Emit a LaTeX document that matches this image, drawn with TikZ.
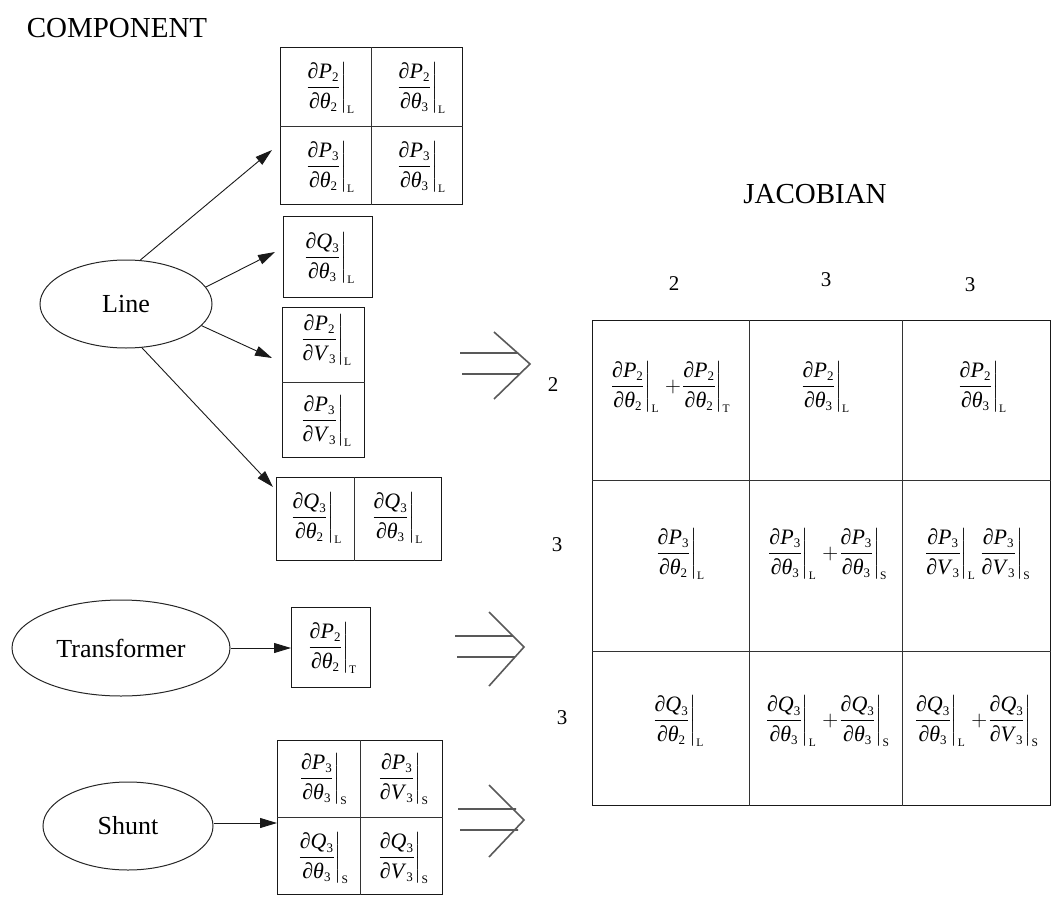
\RequirePackage{fix-cm}
\documentclass[tikz,border=0pt]{standalone}
\usepackage{amsmath}
\usepackage{fontspec}
\setmainfont{Liberation Serif}
\usetikzlibrary{arrows.meta,calc,shapes.geometric}

% partial derivative evaluated for one component: d#1_#2 / d#3_#4 |_#5
\newcommand{\subno}[1]{\text{\fontsize{13}{13}\selectfont #1}}
\newcommand{\jd}[5]{$\left.\dfrac{\text{∂\textit{#1}}_{\subno{#2}}}{\text{∂\textit{#3}}_{\subno{#4}}}\right|_{\text{\fontsize{11.5}{12}\selectfont #5}}$}
\newcommand{\jplus}{\hspace{6pt}$+$\hspace{0pt}}

\tikzset{
  title/.style={font=\fontsize{29}{34}\selectfont, inner sep=0pt},
  comp/.style={draw=black!85, ellipse, line width=1pt, inner sep=0pt,
               font=\fontsize{26}{30}\selectfont},
  cellbox/.style={draw=black!90, line width=1.3pt, inner sep=0pt, anchor=north west},
  divider/.style={line width=1pt, black!80},
  deriv/.style={inner sep=0pt, font=\fontsize{22}{26}\selectfont},
  arr/.style={-{Triangle[length=17pt,width=10pt]}, line width=0.9pt, black!90},
  imply/.style={line width=1.6pt, black!65},
  idx/.style={font=\fontsize{21}{25}\selectfont, inner sep=0pt}
}

\begin{document}
\begin{tikzpicture}[x=1pt, y=-1pt]
\useasboundingbox (0,0) rectangle (1052,897);

% headings
\node[title] (hcomp) at (117,28) {COMPONENT};
\node[title] (hjac) at (815,194) {JACOBIAN};

% components
\node[comp, minimum width=172pt, minimum height=88pt] (line) at (126,304) {Line};
\node[comp, minimum width=218pt, minimum height=96pt] (trans) at (121,648) {Transformer};
\node[comp, minimum width=170pt, minimum height=88pt] (shunt) at (128,826) {Shunt};

% ---------- Line contributions ----------
\node[cellbox, minimum width=182pt, minimum height=157pt] (lb1) at (280,47) {};
\draw[divider] (lb1.north) -- (lb1.south);
\draw[divider] (lb1.west) -- (lb1.east);
\node[deriv] (lb1a) at (330,88) {\jd{P}{2}{θ}{2}{L}};
\node[deriv] (lb1b) at (421,88) {\jd{P}{2}{θ}{3}{L}};
\node[deriv] (lb1c) at (330,167) {\jd{P}{3}{θ}{2}{L}};
\node[deriv] (lb1d) at (421,167) {\jd{P}{3}{θ}{3}{L}};

\node[cellbox, minimum width=89pt, minimum height=81pt] (lb2) at (283,216) {};
\node[deriv] (lb2a) at (329,258) {\jd{Q}{3}{θ}{3}{L}};

\node[cellbox, minimum width=82pt, minimum height=150pt] (lb3) at (282,307) {};
\draw[divider] (lb3.west) -- (lb3.east);
\node[deriv] (lb3a) at (326,340) {\jd{P}{2}{V}{3}{L}};
\node[deriv] (lb3b) at (326,421) {\jd{P}{3}{V}{3}{L}};

\node[cellbox, minimum width=165pt, minimum height=83pt] (lb4) at (276,477) {};
\coordinate (lb4m) at (354,477);
\draw[divider] (lb4m) -- (lb4m |- lb4.south);
\node[deriv] (lb4a) at (316,518) {\jd{Q}{3}{θ}{2}{L}};
\node[deriv] (lb4b) at (397,518) {\jd{Q}{3}{θ}{3}{L}};

\coordinate (tA) at (272,150);
\coordinate (tB) at (275,252);
\coordinate (tC) at (272,358);
\coordinate (tD) at (273,487);
\draw[arr] (line.72) -- (tA);
\draw[arr] (line.12) -- (tB);
\draw[arr] (line.-16) -- (tC);
\draw[arr] (line.-70) -- (tD);

% ---------- Transformer contribution ----------
\node[cellbox, minimum width=79pt, minimum height=80pt] (tb) at (291,607) {};
\node[deriv] (tba) at (332,648) {\jd{P}{2}{θ}{2}{T}};
\draw[arr] (trans.east) -- (trans.east -| tb.west);

% ---------- Shunt contributions ----------
\node[cellbox, minimum width=165pt, minimum height=154pt] (sb) at (277,740) {};
\draw[divider] (sb.north) -- (sb.south);
\draw[divider] (sb.west) -- (sb.east);
\node[deriv] (sba) at (323,779) {\jd{P}{3}{θ}{3}{S}};
\node[deriv] (sbb) at (403,779) {\jd{P}{3}{V}{3}{S}};
\node[deriv] (sbc) at (323,858) {\jd{Q}{3}{θ}{3}{S}};
\node[deriv] (sbd) at (403,858) {\jd{Q}{3}{V}{3}{S}};
\coordinate (sbin) at (277,823);
\draw[arr] (shunt.east |- sbin) -- (sbin);

% ---------- "is added into" symbols ----------
\draw[imply] (460,353) -- (518,353) (462,374) -- (520,374)
             (494,332) -- (530,364) -- (494,399);
\draw[imply] (455,636) -- (513,636) (457,657) -- (515,657)
             (489,612) -- (524,647) -- (489,686);
\draw[imply] (458,809) -- (516,809) (460,830) -- (518,830)
             (489,785) -- (524,820) -- (489,857);

% ---------- Jacobian ----------
\node[cellbox, minimum width=458pt, minimum height=485pt] (jac) at (592,320) {};
\coordinate (jc1) at (749,320);
\coordinate (jc2) at (902,320);
\coordinate (jr1) at (592,480);
\coordinate (jr2) at (592,651);
\draw[divider] (jc1) -- (jc1 |- jac.south);
\draw[divider] (jc2) -- (jc2 |- jac.south);
\draw[divider] (jr1) -- (jr1 -| jac.east);
\draw[divider] (jr2) -- (jr2 -| jac.east);

% bus indices
\node[idx] (col1) at (674,284) {2};
\node[idx] (col2) at (826,280) {3};
\node[idx] (col3) at (970,285) {3};
\node[idx] (row1) at (553,385) {2};
\node[idx] (row2) at (557,545) {3};
\node[idx] (row3) at (562,718) {3};

% entries
\node[deriv] (j11) at (670,387) {\jd{P}{2}{θ}{2}{L}\jplus\jd{P}{2}{θ}{2}{T}};
\node[deriv] (j12) at (825,387) {\jd{P}{2}{θ}{3}{L}};
\node[deriv] (j13) at (982,387) {\jd{P}{2}{θ}{3}{L}};
\node[deriv] (j21) at (680,554) {\jd{P}{3}{θ}{2}{L}};
\node[deriv] (j22) at (827,554) {\jd{P}{3}{θ}{3}{L}\jplus\jd{P}{3}{θ}{3}{S}};
\node[deriv] (j23) at (977,554) {\jd{P}{3}{V}{3}{L}\hspace{4pt}\jd{P}{3}{V}{3}{S}};
\node[deriv] (j31) at (678,721) {\jd{Q}{3}{θ}{2}{L}};
\node[deriv] (j32) at (827,721) {\jd{Q}{3}{θ}{3}{L}\jplus\jd{Q}{3}{θ}{3}{S}};
\node[deriv] (j33) at (976,721) {\jd{Q}{3}{θ}{3}{L}\jplus\jd{Q}{3}{V}{3}{S}};
\end{tikzpicture}
\end{document}
